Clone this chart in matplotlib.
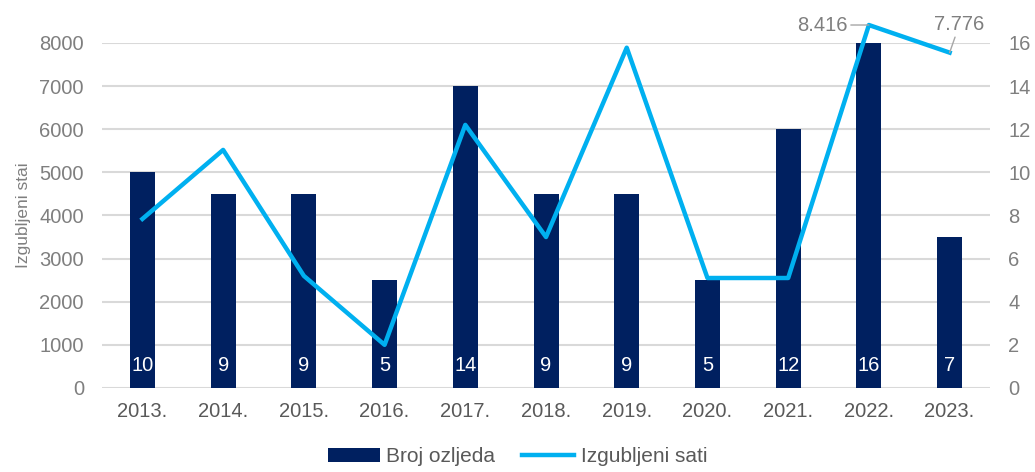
import matplotlib.pyplot as plt
import numpy as np

plt.rcParams['font.family'] = ['Liberation Sans', 'DejaVu Sans']

years = ['2013.', '2014.', '2015.', '2016.', '2017.', '2018.', '2019.', '2020.', '2021.', '2022.', '2023.']
injuries = [10, 9, 9, 5, 14, 9, 9, 5, 12, 16, 7]
hours = [3920, 5520, 2600, 1000, 6100, 3500, 7890, 2550, 2550, 8416, 7776]

navy = '#002060'
cyan = '#00b0f0'
grey = '#7f7f7f'

fig = plt.figure(figsize=(10.35, 4.72), dpi=100)
ax2 = fig.add_axes([0.0986, 0.178, 0.8579, 0.731])
ax = ax2.twinx()
ax.yaxis.tick_left()
ax.yaxis.set_label_position('left')
ax2.yaxis.tick_right()

x = np.arange(len(years))

# bars (count) on right axis, behind
bars = ax2.bar(x, injuries, width=0.31, color=navy, zorder=2, label='Broj ozljeda')
ax2.set_ylim(0, 16)
ax2.set_yticks(range(0, 17, 2))
ax2.grid(axis='y', color='#d9d9d9', linewidth=1.5, zorder=0)
ax2.set_axisbelow(True)
for xi, v in zip(x, injuries):
    ax2.annotate(str(v), (xi, 0), xytext=(0, 16), textcoords='offset points',
                 ha='center', va='center', color='white', fontsize=14.5)

# line (hours) on left axis, on top
line, = ax.plot(x, hours, color=cyan, linewidth=3.2, clip_on=False,
                solid_joinstyle='round', label='Izgubljeni sati')
ax.set_ylim(0, 8000)
ax.set_yticks(range(0, 8001, 1000))
ax.set_ylabel('Izgubljeni stai', color=grey, fontsize=12.5, labelpad=6)
ax.set_zorder(ax2.get_zorder() + 1)
ax.patch.set_visible(False)

# leader-line labels for last two points
ax.annotate('8.416', (x[9], hours[9]), xytext=(-15, 0), textcoords='offset points',
            ha='right', va='center', color=grey, fontsize=14.5, annotation_clip=False,
            arrowprops=dict(arrowstyle='-', color='#a6a6a6', lw=1, shrinkA=0, shrinkB=0))
ax.annotate('7.776', (x[10], hours[10]), xytext=(7, 20), textcoords='offset points',
            ha='center', va='center', color=grey, fontsize=14.5, annotation_clip=False,
            arrowprops=dict(arrowstyle='-', color='#a6a6a6', lw=1, shrinkA=0, shrinkB=0))

ax2.set_xlim(-0.5, len(years) - 0.5)
ax2.set_xticks(x)
ax2.set_xticklabels(years, color='#595959', fontsize=14.5)

for a in (ax, ax2):
    for s in a.spines.values():
        s.set_visible(False)
    a.tick_params(axis='y', length=0, pad=13, labelsize=14.5, labelcolor=grey)
ax2.tick_params(axis='x', length=0, pad=10)

fig.legend(handles=[bars, line], labels=['Broj ozljeda', 'Izgubljeni sati'],
           loc='lower center', bbox_to_anchor=(0.5, -0.028), ncol=2, frameon=False,
           fontsize=15, handlelength=2.5, columnspacing=1.3, handletextpad=0.3,
           labelcolor='#595959')

fig.savefig('out.png', dpi=100)
